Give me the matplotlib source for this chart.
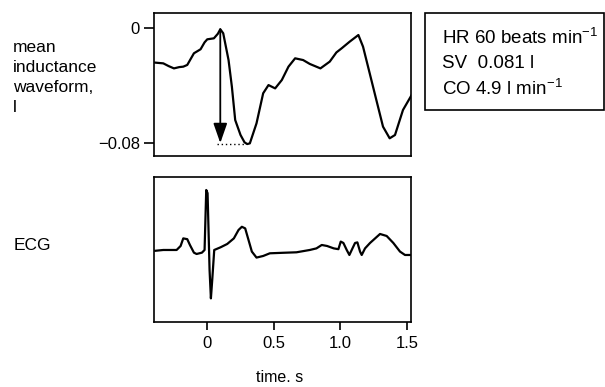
import matplotlib
matplotlib.use("Agg")
import matplotlib.pyplot as plt
from matplotlib.patches import Rectangle

plt.rcParams['font.family'] = ['Liberation Sans', 'DejaVu Sans']
plt.rcParams['mathtext.fontset'] = 'custom'
plt.rcParams['mathtext.rm'] = 'Liberation Sans'
plt.rcParams['mathtext.it'] = 'Liberation Sans'
plt.rcParams['font.size'] = 12

# mean inductance waveform (l) vs time (s)
ind_t = [-0.39, -0.33, -0.29, -0.25, -0.21, -0.18, -0.15, -0.10, -0.05, -0.02, 0.0,
         0.05, 0.08, 0.098, 0.12, 0.16, 0.185, 0.21, 0.25, 0.28, 0.30, 0.32, 0.37,
         0.42, 0.46, 0.51, 0.56, 0.61, 0.66, 0.72, 0.77, 0.85, 0.92, 0.97, 1.01,
         1.07, 1.135, 1.17, 1.22, 1.27, 1.32, 1.37, 1.41, 1.47, 1.535]
ind_v = [-0.0241, -0.0246, -0.0265, -0.0281, -0.0272, -0.0269, -0.0257, -0.0176,
         -0.0148, -0.0100, -0.0079, -0.0072, -0.0040, -0.0009, -0.0037, -0.0223,
         -0.0408, -0.0640, -0.0744, -0.0795, -0.0807, -0.0802, -0.0663, -0.0454,
         -0.0397, -0.0420, -0.0362, -0.0269, -0.0211, -0.0223, -0.0250, -0.0281,
         -0.0234, -0.0170, -0.0141, -0.0095, -0.0049, -0.0130, -0.0315, -0.0501,
         -0.0686, -0.0767, -0.0744, -0.0570, -0.0466]

# ECG (arbitrary units) vs time (s)
ecg_t = [-0.39, -0.33, -0.23, -0.20, -0.18, -0.15, -0.13, -0.10, -0.08, -0.04,
         -0.02, -0.0075, 0.0025, 0.0175, 0.0275, 0.0375, 0.0525, 0.10, 0.15,
         0.20, 0.235, 0.26, 0.285, 0.31, 0.335, 0.37, 0.42, 0.47, 0.57, 0.67,
         0.77, 0.82, 0.86, 0.90, 0.95, 0.985, 1.0025, 1.0225, 1.0475, 1.0675,
         1.085, 1.11, 1.1275, 1.1475, 1.16, 1.185, 1.2225, 1.2975, 1.3475,
         1.3975, 1.4475, 1.485, 1.535]
ecg_v = [-0.02, 0.0, 0.0, 0.10, 0.29, 0.27, 0.125, -0.067, -0.10, -0.067,
         0.0, 1.50, 1.42, -0.50, -1.21, -0.75, 0.0, 0.067, 0.15, 0.29,
         0.50, 0.58, 0.54, 0.25, -0.04, -0.19, -0.15, -0.083, -0.07, -0.058,
         0.0, 0.04, 0.125, 0.10, 0.04, 0.02, 0.21, 0.175, 0.0, -0.125,
         0.0, 0.175, 0.19, -0.04, -0.125, 0.04, 0.175, 0.40, 0.35,
         0.175, -0.04, -0.125, -0.125]

xticks = [0, 0.5, 1.0, 1.5]
xtick_labels = ['0', '0.5', '1.0', '1.5']

fig = plt.figure(figsize=(6.05, 3.87), dpi=100)
ax1 = fig.add_axes([0.2545, 0.5969, 0.4248, 0.3695])
ax2 = fig.add_axes([0.2545, 0.1680, 0.4248, 0.3747])

for ax in (ax1, ax2):
    for s in ax.spines.values():
        s.set_linewidth(1.2)
    ax.set_xlim(-0.4, 1.53)

ax1.plot(ind_t, ind_v, color='black', lw=1.6)
ax1.set_ylim(-0.089, 0.0104)
ax1.set_yticks([0, -0.08])
ax1.set_yticklabels(['0', '\u22120.08'])
ax1.set_xticks([])
ax1.tick_params(axis='y', direction='out', length=7, width=1.2, pad=3, labelsize=12)

# arrow from peak to trough, with dotted guide
ax1.annotate('', xy=(0.098, -0.0800), xytext=(0.098, -0.0009),
             arrowprops=dict(arrowstyle='-|>,head_width=0.35,head_length=1.0',
                             color='black', lw=1.3, shrinkA=0, shrinkB=0))
ax1.plot([0.075, 0.29], [-0.081, -0.081], color='black', lw=1.0, ls=(0, (1, 2)))

ax2.plot(ecg_t, ecg_v, color='black', lw=1.6)
ax2.set_ylim(-1.8, 1.825)
ax2.set_yticks([])
ax2.set_xticks(xticks)
ax2.set_xticklabels(xtick_labels)
ax2.tick_params(axis='x', direction='out', length=6, width=1.2, pad=4, labelsize=12)

fig.text(280 / 605, 1 - 377 / 387, 'time. s', ha='center', va='center', fontsize=11.5)

for i, line in enumerate(['mean', 'inductance', 'waveform,', 'l']):
    fig.text(13 / 605, 1 - (48 + 20 * i) / 387, line, ha='left', va='center', fontsize=12.5)
fig.text(14 / 605, 1 - 246 / 387, 'ECG', ha='left', va='center', fontsize=12.5)

# info box
fig.patches.append(Rectangle((425 / 605, 1 - 110 / 387), 179 / 605, 97 / 387,
                             transform=fig.transFigure, fill=False,
                             edgecolor='black', lw=1.2))
info = ['HR 60 beats min$^{\u22121}$', 'SV  0.081 l', 'CO 4.9 l min$^{\u22121}$']
for i, line in enumerate(info):
    fig.text(442 / 605, 1 - (38 + 25.5 * i) / 387, line, ha='left', va='center', fontsize=13.5)

fig.savefig('out.png', dpi=100)
